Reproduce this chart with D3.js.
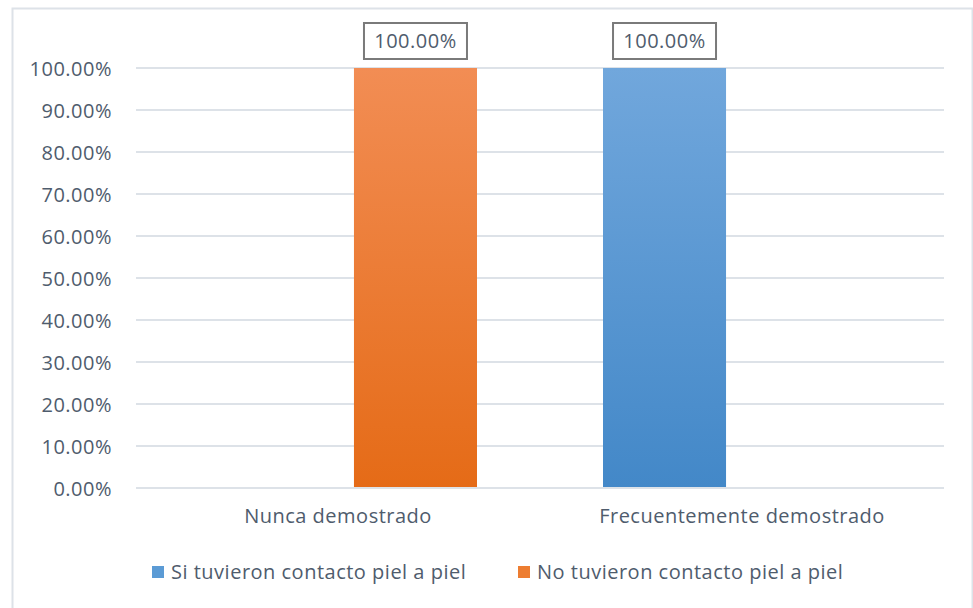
<!DOCTYPE html>
<html>
<head>
<meta charset="utf-8">
<script src="https://cdn.jsdelivr.net/npm/d3@7"></script>
<style>
  html, body { margin: 0; padding: 0; background: #fff; }
  svg { display: block; }
  text { font-family: "Open Sans", sans-serif; fill: #4f5c6d; letter-spacing: 0.5px; }
</style>
</head>
<body>
<svg id="chart" width="973" height="608"></svg>
<script>
// Categories, series and their values (percent)
const categories = ["Nunca demostrado", "Frecuentemente demostrado"];
const seriesNames = ["Si tuvieron contacto piel a piel", "No tuvieron contacto piel a piel"];
const siValues = [null, 100];
const noValues = [100, null];
const yTicks = [0, 10, 20, 30, 40, 50, 60, 70, 80, 90, 100];

const seriesValues = [siValues, noValues];
const gradients = [
  { id: "gradSi", top: "#71a7dc", bottom: "#4388c8", swatch: "#5b9bd5" },
  { id: "gradNo", top: "#f28d54", bottom: "#e56b17", swatch: "#ed7d31" }
];

const svg = d3.select("#chart");
const W = 973, H = 608;
const margin = { left: 136, right: 29, top: 68, bottom: 120 };
const plotW = W - margin.left - margin.right;
const plotH = H - margin.top - margin.bottom;
const FS = "20px";

const defs = svg.append("defs");
gradients.forEach(g => {
  const lg = defs.append("linearGradient")
    .attr("id", g.id).attr("x1", 0).attr("y1", 0).attr("x2", 0).attr("y2", 1);
  lg.append("stop").attr("offset", "0%").attr("stop-color", g.top);
  lg.append("stop").attr("offset", "100%").attr("stop-color", g.bottom);
});

// Outer chart frame
svg.append("rect")
  .attr("x", 12.5).attr("y", 8.5).attr("width", 960).attr("height", 610)
  .attr("fill", "#fff").attr("stroke", "#dde2e8").attr("stroke-width", 2);

const g = svg.append("g").attr("transform", `translate(${margin.left},${margin.top})`);

const x0 = d3.scaleBand().domain(categories).range([0, plotW]).paddingInner(0).paddingOuter(0);
const x1 = d3.scaleBand().domain(d3.range(seriesNames.length))
  .range([63, x0.bandwidth() - 63]).paddingInner(0.206);
const y = d3.scaleLinear().domain([0, 100]).range([plotH, 0]);

// Gridlines
g.append("g")
  .selectAll("line").data(yTicks).join("line")
  .attr("x1", 0).attr("x2", plotW)
  .attr("y1", d => y(d)).attr("y2", d => y(d))
  .attr("stroke", "#dde2e8").attr("stroke-width", 2);

// Y axis labels
const yAxis = d3.axisLeft(y).tickValues(yTicks).tickSize(0).tickPadding(24)
  .tickFormat(d => d.toFixed(2) + "%");
g.append("g").call(yAxis)
  .call(s => s.select(".domain").remove())
  .selectAll("text")
  .attr("dy", "0.35em")
  .style("font-size", FS)
  .style("font-family", "'Open Sans', sans-serif")
  .attr("fill", "#4f5c6d");

// X axis labels
const xAxis = d3.axisBottom(x0).tickSize(0).tickPadding(0);
g.append("g").attr("transform", `translate(0,${plotH + 21})`).call(xAxis)
  .call(s => s.select(".domain").remove())
  .selectAll("text")
  .attr("dy", "0.71em")
  .style("font-size", FS)
  .style("font-family", "'Open Sans', sans-serif")
  .attr("fill", "#4f5c6d");

// Bars
const bars = [];
categories.forEach((c, ci) => {
  seriesValues.forEach((vals, si) => {
    if (vals[ci] != null) bars.push({ cat: c, s: si, v: vals[ci] });
  });
});

g.selectAll("rect.bar").data(bars).join("rect")
  .attr("class", "bar")
  .attr("x", d => x0(d.cat) + x1(d.s))
  .attr("width", x1.bandwidth())
  .attr("y", d => y(d.v))
  .attr("height", d => y(0) - y(d.v) - 1)
  .attr("fill", d => `url(#${gradients[d.s].id})`);

// Data labels with boxes
const lab = g.selectAll("g.lab").data(bars).join("g")
  .attr("class", "lab")
  .attr("transform", d => `translate(${x0(d.cat) + x1(d.s) + x1.bandwidth() / 2},${y(d.v) - 27})`);
lab.append("rect")
  .attr("x", -51.5).attr("y", -18).attr("width", 103).attr("height", 36)
  .attr("fill", "#fff").attr("stroke", "#7a7a7a").attr("stroke-width", 2);
lab.append("text")
  .attr("text-anchor", "middle").attr("dy", "0.35em")
  .style("font-size", FS)
  .text(d => d.v.toFixed(2) + "%");

// Legend
const legendItems = [{ name: seriesNames[0], x: 152 }, { name: seriesNames[1], x: 518 }];
const leg = svg.append("g").selectAll("g").data(legendItems).join("g")
  .attr("transform", d => `translate(${d.x},572)`);
leg.append("rect").attr("x", 0).attr("y", -6).attr("width", 12).attr("height", 12)
  .attr("fill", (d, i) => gradients[i].swatch);
leg.append("text").attr("x", 19).attr("dy", "0.35em")
  .style("font-size", FS)
  .text(d => d.name);
</script>
</body>
</html>
